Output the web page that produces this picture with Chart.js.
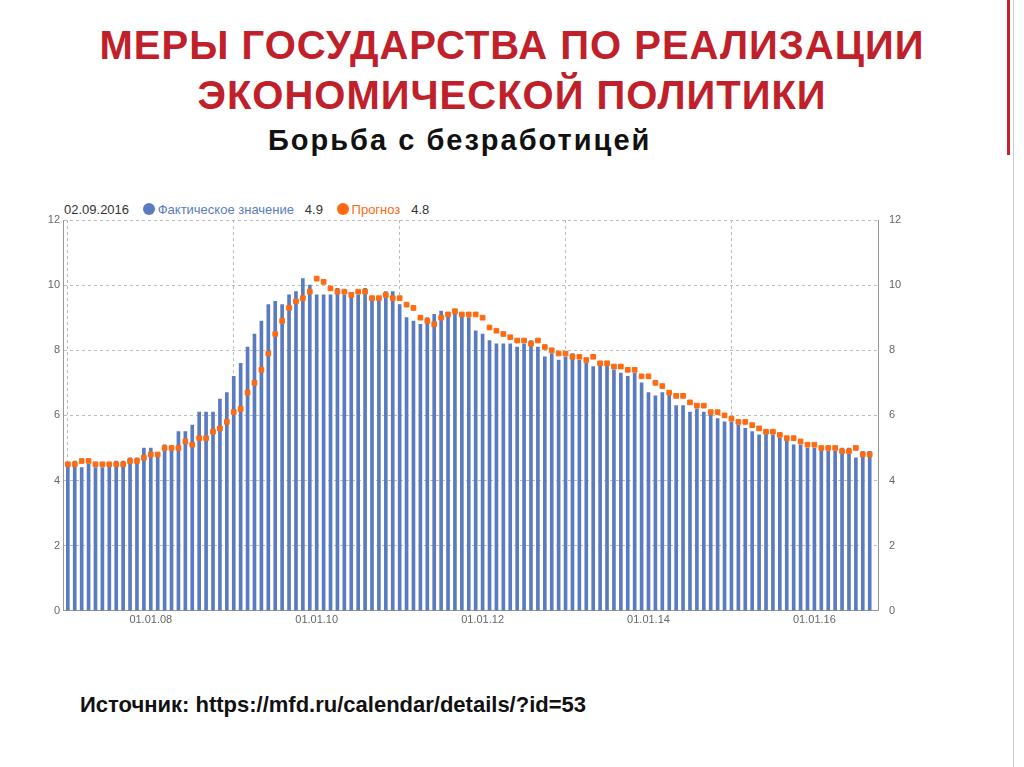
<!DOCTYPE html>
<html><head><meta charset="utf-8">
<script src="https://cdn.jsdelivr.net/npm/chart.js@4"></script>
<style>
body{margin:0;width:1024px;height:767px;background:#fff;position:relative;overflow:hidden;font-family:"Liberation Sans",Arial,sans-serif}
#t1{position:absolute;left:0;width:1024px;top:20px;text-align:center;color:#c0202a;font:bold 40px "Liberation Sans",Arial;line-height:50px;letter-spacing:1px}
#t2{position:absolute;left:268px;top:124px;font:bold 29px "Liberation Sans",Arial;letter-spacing:2px;color:#111}
#leg{position:absolute;left:64px;top:202px;font:13px "Liberation Sans",Arial;color:#333;white-space:nowrap}
#leg .d{display:inline-block;width:12px;height:12px;border-radius:6px;vertical-align:-1px;margin:0 3px 0 10px}
#src{position:absolute;left:80px;top:692px;font:bold 22px "Liberation Sans",Arial;color:#111}
#wrap{position:absolute;left:30px;top:210px;width:890px;height:420px}
#rl{position:absolute;left:1007px;top:0;width:3px;height:155px;background:#c8202a}
#gl{position:absolute;left:1013px;top:0;width:1px;height:767px;background:#ccc}
</style></head><body>
<div id="t1">МЕРЫ ГОСУДАРСТВА ПО РЕАЛИЗАЦИИ<br>ЭКОНОМИЧЕСКОЙ ПОЛИТИКИ</div>
<div id="t2">Борьба с безработицей</div>
<div id="leg">02.09.2016 <span class="d" style="background:#5b7bc0"></span><span style="color:#5b7bc0">Фактическое значение</span>&nbsp;&nbsp; 4.9 <span class="d" style="background:#ff6a10"></span><span style="color:#ff6a10">Прогноз</span>&nbsp;&nbsp; 4.8</div>
<div id="wrap"><canvas id="c" width="890" height="420"></canvas></div>
<div id="src">Источник: https://mfd.ru/calendar/details/?id=53</div>
<div id="rl"></div><div id="gl"></div>
<script>
const tickLabels = ["01.01.08","01.01.10","01.01.12","01.01.14","01.01.16"];
const tickIndex = [12,36,60,84,108];
const actual = [
4.5,4.6,4.4,4.5,4.4,4.4,4.5,4.6,4.6,4.7,4.7,5.0,
5.0,4.8,5.1,5.0,5.5,5.5,5.7,6.1,6.1,6.1,6.5,6.7,
7.2,7.6,8.1,8.5,8.9,9.4,9.5,9.4,9.7,9.8,10.2,10.0,
9.7,9.7,9.7,9.9,9.7,9.7,9.7,9.9,9.5,9.6,9.8,9.8,
9.4,9.0,8.9,8.8,9.0,9.1,9.2,9.1,9.1,9.1,9.0,8.6,
8.5,8.3,8.2,8.2,8.2,8.1,8.2,8.3,8.1,7.8,7.9,7.7,
7.8,7.9,7.7,7.6,7.5,7.6,7.6,7.4,7.3,7.2,7.3,7.0,
6.7,6.6,6.7,6.7,6.3,6.3,6.1,6.2,6.1,6.1,5.9,5.8,
5.8,5.7,5.6,5.5,5.4,5.5,5.4,5.3,5.3,5.1,5.1,5.0,
5.0,5.0,4.9,4.9,5.0,5.0,4.7,4.9,4.9
];
const forecast = [
4.5,4.5,4.6,4.6,4.5,4.5,4.5,4.5,4.5,4.6,4.6,4.7,
4.8,4.8,5.0,5.0,5.0,5.2,5.1,5.3,5.3,5.5,5.6,5.8,
6.1,6.2,6.7,7.0,7.4,7.9,8.5,8.9,9.3,9.5,9.6,9.8,
10.2,10.1,9.9,9.8,9.8,9.7,9.8,9.8,9.6,9.6,9.7,9.6,
9.6,9.4,9.3,9.0,8.9,8.8,9.0,9.1,9.2,9.1,9.1,9.1,
9.0,8.7,8.6,8.5,8.4,8.3,8.3,8.2,8.3,8.1,8.0,7.9,
7.9,7.8,7.8,7.7,7.8,7.6,7.6,7.5,7.5,7.4,7.4,7.2,
7.2,7.0,6.9,6.7,6.6,6.6,6.4,6.3,6.3,6.1,6.1,6.0,
5.9,5.8,5.8,5.7,5.6,5.5,5.5,5.4,5.3,5.3,5.2,5.1,
5.1,5.0,5.0,5.0,4.9,4.9,5.0,4.8,4.8
];
const barPts = actual.map((v,i)=>({x:i,y:v}));
const fcPts = forecast.map((v,i)=>({x:i,y:v}));
const tickFont = {family:"Liberation Sans", size:11};
new Chart(document.getElementById('c'),{
 data:{datasets:[
  {type:'scatter',data:fcPts,backgroundColor:'#ff6a10',borderColor:'#ff6a10',pointStyle:'rect',pointRadius:3.3,pointHoverRadius:3.3,order:0},
  {type:'bar',data:barPts,backgroundColor:'#5b7bc0',barThickness:3,order:1,yAxisID:'y'}
 ]},
 options:{responsive:false,animation:false,
  layout:{padding:{left:0,right:0,top:10,bottom:0}},
  plugins:{legend:{display:false},tooltip:{enabled:false}},
  scales:{
   x:{type:'linear',min:-0.7,max:117.2,offset:false,
      afterBuildTicks:s=>{s.ticks=tickIndex.map(v=>({value:v}));},
      ticks:{callback:(v)=>{const k=tickIndex.indexOf(v);return k>=0?tickLabels[k]:'';},font:tickFont,color:'#666',maxRotation:0,autoSkip:false},
      grid:{color:'#bbb',drawTicks:false},border:{color:'#999',dash:[3,3]}},
   y:{min:0,max:12,position:'left',afterFit:s=>{s.width=33;},
      ticks:{stepSize:2,font:tickFont,color:'#666'},grid:{color:'#bbb',drawTicks:false},border:{color:'#999',dash:[3,3]}},
   y2:{min:0,max:12,position:'right',afterFit:s=>{s.width=42;},
      ticks:{stepSize:2,font:tickFont,color:'#666'},grid:{display:false},border:{color:'#999'}}
  }}
});
</script>
</body></html>
